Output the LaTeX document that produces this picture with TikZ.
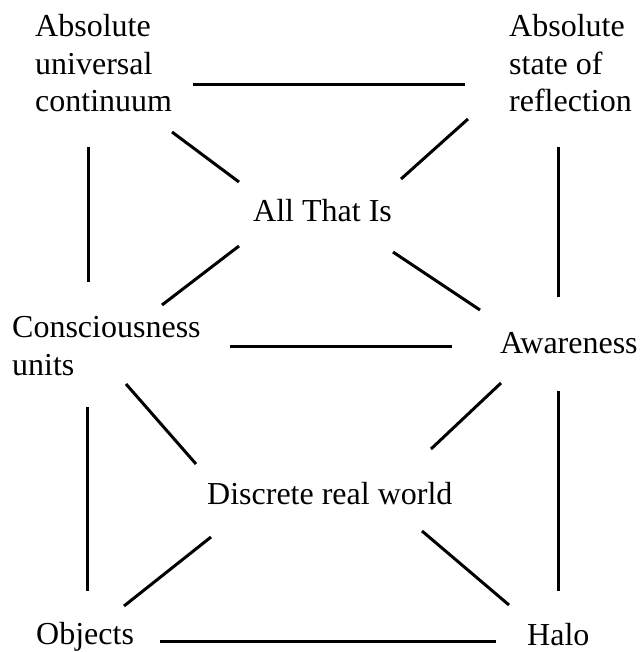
\documentclass[tikz,border=0pt]{standalone}
\usepackage{fontspec}
\setmainfont{Liberation Serif}
\usepackage{tikz}

\begin{document}
\begin{tikzpicture}[x=1pt,y=-1pt]
      \tikzstyle{label}=[anchor=base west,inner sep=0pt,align=left,font=\fontsize{32}{37.5}\selectfont]
      \tikzstyle{every node}=[label]
      \tikzstyle{link}=[line width=3pt]
      \useasboundingbox (0,0) rectangle (640,652);
      % nodes sit on the baseline of their last line
      \node (auc) at (35,112) {Absolute\\universal\\continuum};
      \node (asr) at (509,112) {Absolute\\state of\\reflection};
      \node (ati) at (253,221) {All That Is};
      \node (cu) at (12,375) {Consciousness\\units};
      \node (aw) at (500,353) {Awareness};
      \node (drw) at (207,504) {Discrete real world};
      \node (obj) at (36,644) {Objects};
      \node (halo) at (527,645) {Halo};
      % upper square
      \draw[link] ([shift={(158,-27)}]auc.base west) -- ([shift={(-44,-27)}]asr.base west);
      \draw[link] ([shift={(53,35)}]auc.base west) -- ([shift={(76,-93)}]cu.base west);
      \draw[link] ([shift={(49,35)}]asr.base west) -- ([shift={(58,-56)}]aw.base west);
      \draw[link] ([shift={(218,-29)}]cu.base west) -- ([shift={(-48,-7)}]aw.base west);
      \draw[link] ([shift={(137,20)}]auc.base west) -- ([shift={(-14,-39)}]ati.base west);
      \draw[link] ([shift={(-41,7)}]asr.base west) -- ([shift={(148,-42)}]ati.base west);
      \draw[link] ([shift={(-14,25)}]ati.base west) -- ([shift={(150,-70)}]cu.base west);
      \draw[link] ([shift={(140,31)}]ati.base west) -- ([shift={(-20,-43)}]aw.base west);
      % lower square
      \draw[link] ([shift={(75,32)}]cu.base west) -- ([shift={(51,-53)}]obj.base west);
      \draw[link] ([shift={(58,38)}]aw.base west) -- ([shift={(31,-54)}]halo.base west);
      \draw[link] ([shift={(124,-3)}]obj.base west) -- ([shift={(-31,-4)}]halo.base west);
      \draw[link] ([shift={(114,9)}]cu.base west) -- ([shift={(-11,-40)}]drw.base west);
      \draw[link] ([shift={(1,30)}]aw.base west) -- ([shift={(224,-55)}]drw.base west);
      \draw[link] ([shift={(4,33)}]drw.base west) -- ([shift={(88,-38)}]obj.base west);
      \draw[link] ([shift={(215,27)}]drw.base west) -- ([shift={(-18,-40)}]halo.base west);
\end{tikzpicture}
\end{document}
